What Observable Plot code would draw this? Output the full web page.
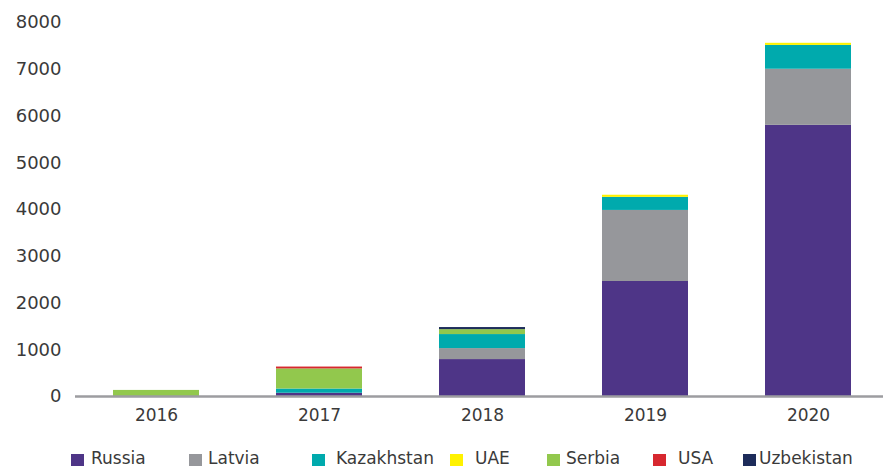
<!DOCTYPE html>
<html>
<head>
<meta charset="utf-8">
<script src="https://cdn.jsdelivr.net/npm/d3@7"></script>
<script src="https://cdn.jsdelivr.net/npm/@observablehq/plot@0.6"></script>
<style>
  body { margin: 0; background: #fff; font-family: "DejaVu Sans", sans-serif; }
  #wrap { position: relative; width: 883px; height: 467px; }
  #legend { position: absolute; left: 0; top: 0; width: 883px; height: 467px; font-size: 17px; color: #3a3a3a; pointer-events: none; }
  .sw { position: absolute; top: 454px; width: 13px; height: 12px; }
  .lt { position: absolute; top: 448px; white-space: nowrap; line-height: 20px; }
</style>
</head>
<body>
<div id="wrap">
  <div id="chart"></div>
  <div id="legend"></div>
</div>
<script>
const years = ["2016", "2017", "2018", "2019", "2020"];
const countries = ["Russia", "Latvia", "Kazakhstan", "UAE", "Serbia", "USA", "Uzbekistan"];
const colors = ["#4e3587", "#96979b", "#00aaad", "#fff200", "#92c84d", "#d7282f", "#1d2c5a"];
const russia     = [0, 70, 790, 2460, 5800];
const latvia     = [0, 0, 235, 1520, 1200];
const kazakhstan = [0, 90, 300, 280, 510];
const uae        = [0, 0, 0, 45, 45];
const serbia     = [130, 430, 105, 0, 0];
const usa        = [0, 40, 0, 0, 0];
const uzbekistan = [0, 0, 45, 0, 0];
const yTicks = [0, 1000, 2000, 3000, 4000, 5000, 6000, 7000, 8000];

const series = [russia, latvia, kazakhstan, uae, serbia, usa, uzbekistan];
const data = [];
countries.forEach((c, i) => years.forEach((y, j) => data.push({year: y, country: c, value: series[i][j]})));

const chart = Plot.plot({
  width: 883,
  height: 440,
  marginTop: 22,
  marginBottom: 44,
  marginLeft: 75,
  marginRight: 0,
  style: { fontFamily: "DejaVu Sans, sans-serif", fontSize: "17px", color: "#3a3a3a", background: "#fff" },
  x: { domain: years, range: [75, 890], paddingInner: 0.47, paddingOuter: 0.235, label: null },
  y: { domain: [0, 8000], ticks: yTicks, label: null },
  color: { domain: countries, range: colors },
  marks: [
    Plot.barY(data, { x: "year", y: "value", fill: "country", order: countries }),
    Plot.ruleY([0], { stroke: "#9d9da0", strokeWidth: 2.5 }),
    Plot.axisY({ ticks: yTicks, tickSize: 0, tickPadding: 14, label: null, fontSize: 18, tickFormat: d => String(d) }),
    Plot.axisX({ tickSize: 0, tickPadding: 12, label: null, fontSize: 17 })
  ]
});
document.getElementById("chart").appendChild(chart);

const swatchX = [71, 189, 312, 450, 547, 653, 743];
const textX = [91, 208, 336, 475, 566, 678, 759];
const legend = document.getElementById("legend");
countries.forEach((c, i) => {
  const sw = document.createElement("span");
  sw.className = "sw";
  sw.style.left = swatchX[i] + "px";
  sw.style.background = colors[i];
  legend.appendChild(sw);
  const t = document.createElement("span");
  t.className = "lt";
  t.style.left = textX[i] + "px";
  t.textContent = c;
  legend.appendChild(t);
});
</script>
</body>
</html>
